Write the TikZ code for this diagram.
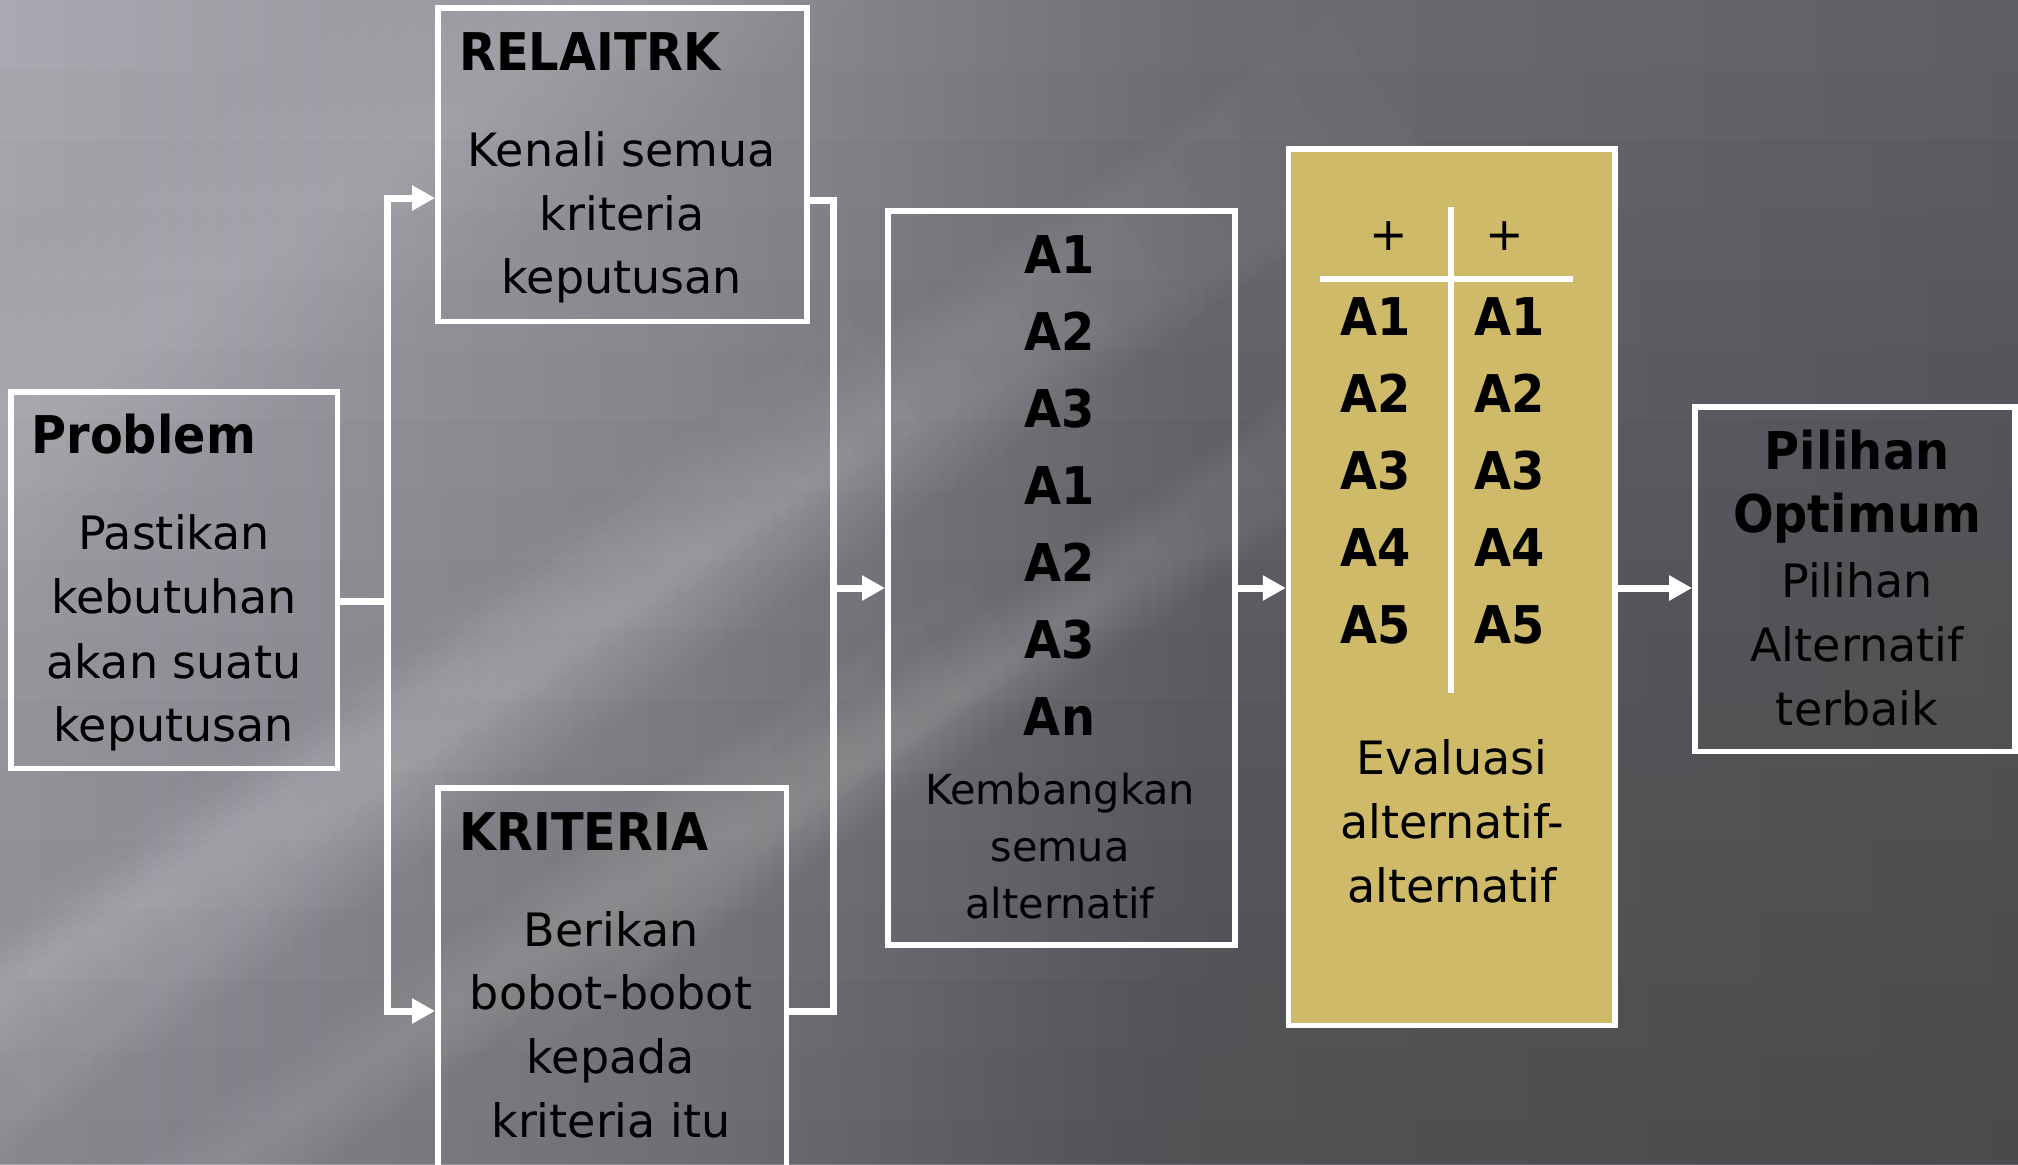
\documentclass[tikz,border=0pt]{standalone}
\usepackage{fontspec}
\setmainfont{DejaVu Sans}
\newfontfamily\headfont{DejaVu Sans}[FakeStretch=0.92]
\usetikzlibrary{arrows.meta}

% palette
\definecolor{bgA}{RGB}{170,168,176}
\definecolor{bgB}{RGB}{144,142,149}
\definecolor{bgC}{RGB}{110,108,114}
\definecolor{bgD}{RGB}{96,94,100}
\definecolor{gold}{RGB}{206,186,104}

% background sweep, light on the left and dark on the right
\pgfdeclarehorizontalshading{bgsweep}{100bp}{color(0bp)=(bgA); color(25bp)=(bgA); color(42bp)=(bgB); color(55bp)=(bgC); color(75bp)=(bgD); color(100bp)=(bgD)}

% soft diagonal light streak built from nested translucent layers:
% centre x, centre y, half width, half length, opacity per layer
\newcommand{\lightstreak}[5]{%
  \foreach \i in {1,...,10}{%
    \pgfmathsetmacro\hw{\i/10*#3}%
    \pgfmathsetmacro\hl{(0.25+0.075*\i)*#4}%
    \fill[white, fill opacity=#5, rotate around={35:(#1,#2)}]
      ({#1-\hl},{#2-\hw}) rectangle ({#1+\hl},{#2+\hw});
  }%
}

\begin{document}
\begin{tikzpicture}[x=0.5pt, y=-0.5pt,
  box/.style={draw=white, line width=2.75pt, inner sep=0pt},
  conn/.style={draw=white, line width=3.5pt, line join=miter},
  arr/.style={-{Triangle[length=11.5pt,width=12pt]}},
  arrs/.style={{Triangle[length=11.5pt,width=12pt]}-{Triangle[length=11.5pt,width=12pt]}},
  head/.style={inner sep=0pt, font=\headfont\bfseries\fontsize{26pt}{32pt}\selectfont},
  body/.style={inner sep=0pt, anchor=base, font=\fontsize{23pt}{32pt}\selectfont},
  small/.style={inner sep=0pt, anchor=base, font=\fontsize{20.7pt}{28pt}\selectfont},
  item/.style={inner sep=0pt, anchor=base, font=\headfont\bfseries\fontsize{26pt}{32pt}\selectfont}]
\useasboundingbox (0,0) rectangle (2018,1164);

% ---------- background ----------
\begin{scope}
  \clip (0,0) rectangle (2018,1164);
  \shade[shading=bgsweep] (0,0) rectangle (2018,1164);
  % darker towards the bottom
  \foreach \k in {1,...,16}{%
    \fill[black, fill opacity=0.01] (0,{\k*70}) rectangle (2018,1164);
  }
  \lightstreak{250}{260}{140}{1100}{0.016}
  \lightstreak{600}{630}{85}{950}{0.018}
  \lightstreak{190}{860}{65}{850}{0.016}
  \lightstreak{950}{700}{55}{550}{0.014}
  \lightstreak{300}{1110}{55}{850}{0.014}
\end{scope}

% ---------- boxes ----------
\node[box, minimum width=163.25pt, minimum height=188.25pt] (problem) at (174,580) {};
\node[box, minimum width=184.5pt, minimum height=156.75pt] (relaitrk) at (622.25,164.5) {};
\node[box, minimum width=174.25pt, minimum height=198.6pt] (kriteria) at (612,986.4) {};
\node[box, minimum width=173.5pt, minimum height=367.1pt] (abox) at (1061.25,577.9) {};
\node[box, fill=gold, minimum width=163.25pt, minimum height=438.25pt] (gold) at (1451.75,587) {};
\node[box, minimum width=160.1pt, minimum height=172.25pt] (pilihan) at (1854.9,579) {};

% junction points of the white connector buses
\coordinate (jTL) at (387,198);
\coordinate (jML) at (387,601);
\coordinate (jBL) at (387,1011);
\coordinate (jTR) at (833,200);
\coordinate (jMR) at (833,588);
\coordinate (jBR) at (833,1011);

% ---------- connectors ----------
\draw[conn] (problem.east |- jML) -- (jML);
\draw[conn, arrs] (jTL -| relaitrk.west) -- (jTL) -- (jBL) -- (jBL -| kriteria.west);
\draw[conn] (relaitrk.east |- jTR) -- (jTR) -- (jBR) -- (kriteria.east |- jBR);
\draw[conn, arr] (jMR) -- (abox.west |- jMR);
\draw[conn, arr] (abox.east |- jMR) -- (gold.west |- jMR);
\draw[conn, arr] (gold.east |- jMR) -- (pilihan.west |- jMR);

% ---------- Problem ----------
\node[head, anchor=base west] (probT) at (31,453.6) {Problem};
\node[body] (prob1) at (174,549) {Pastikan};
\node[body] (prob2) at (174,613.5) {kebutuhan};
\node[body] (prob3) at (174,678) {akan suatu};
\node[body] (prob4) at (174,741) {keputusan};

% ---------- RELAITRK ----------
\node[head, anchor=base west] (relT) at (459,70.5) {RELAITRK};
\node[body] (rel1) at (622,166) {Kenali semua};
\node[body] (rel2) at (622,230) {kriteria};
\node[body] (rel3) at (622,293.5) {keputusan};

% ---------- KRITERIA ----------
\node[head, anchor=base west] (kriT) at (459,850) {KRITERIA};
\node[body] (kri1) at (611,946) {Berikan};
\node[body] (kri2) at (611,1009) {bobot-bobot};
\node[body] (kri3) at (611,1073) {kepada};
\node[body] (kri4) at (611,1137) {kriteria itu};

% ---------- alternatives ----------
\node[item] (alt1) at (1059.5,273) {A1};
\node[item] (alt2) at (1059.5,350) {A2};
\node[item] (alt3) at (1059.5,427) {A3};
\node[item] (alt4) at (1059.5,504) {A1};
\node[item] (alt5) at (1059.5,581) {A2};
\node[item] (alt6) at (1059.5,658) {A3};
\node[item] (alt7) at (1059.5,735) {An};
\node[small] (altd1) at (1060,804) {Kembangkan};
\node[small] (altd2) at (1060,861) {semua};
\node[small] (altd3) at (1060,918) {alternatif};

% ---------- evaluation table ----------
\draw[white, line width=3pt] (1450.5,207) -- (1450.5,692.6);
\draw[white, line width=2.75pt] (1320,279) -- (1573,279);
\node[body] (plusL) at (1389,250) {+};
\node[body] (plusR) at (1504.5,250) {+};
\node[item] (evL1) at (1375.5,335) {A1};
\node[item] (evL2) at (1375.5,412) {A2};
\node[item] (evL3) at (1375.5,489) {A3};
\node[item] (evL4) at (1375.5,566) {A4};
\node[item] (evL5) at (1375.5,643) {A5};
\node[item] (evR1) at (1509.5,335) {A1};
\node[item] (evR2) at (1509.5,412) {A2};
\node[item] (evR3) at (1509.5,489) {A3};
\node[item] (evR4) at (1509.5,566) {A4};
\node[item] (evR5) at (1509.5,643) {A5};
\node[body] (ev1) at (1452,774) {Evaluasi};
\node[body] (ev2) at (1452,838) {alternatif-};
\node[body] (ev3) at (1452,902) {alternatif};

% ---------- result ----------
\node[item] (pilT1) at (1857,469.5) {Pilihan};
\node[item] (pilT2) at (1857,532.7) {Optimum};
\node[body] (pil1) at (1857,597) {Pilihan};
\node[body] (pil2) at (1857,661) {Alternatif};
\node[body] (pil3) at (1857,725) {terbaik};
\end{tikzpicture}
\end{document}
